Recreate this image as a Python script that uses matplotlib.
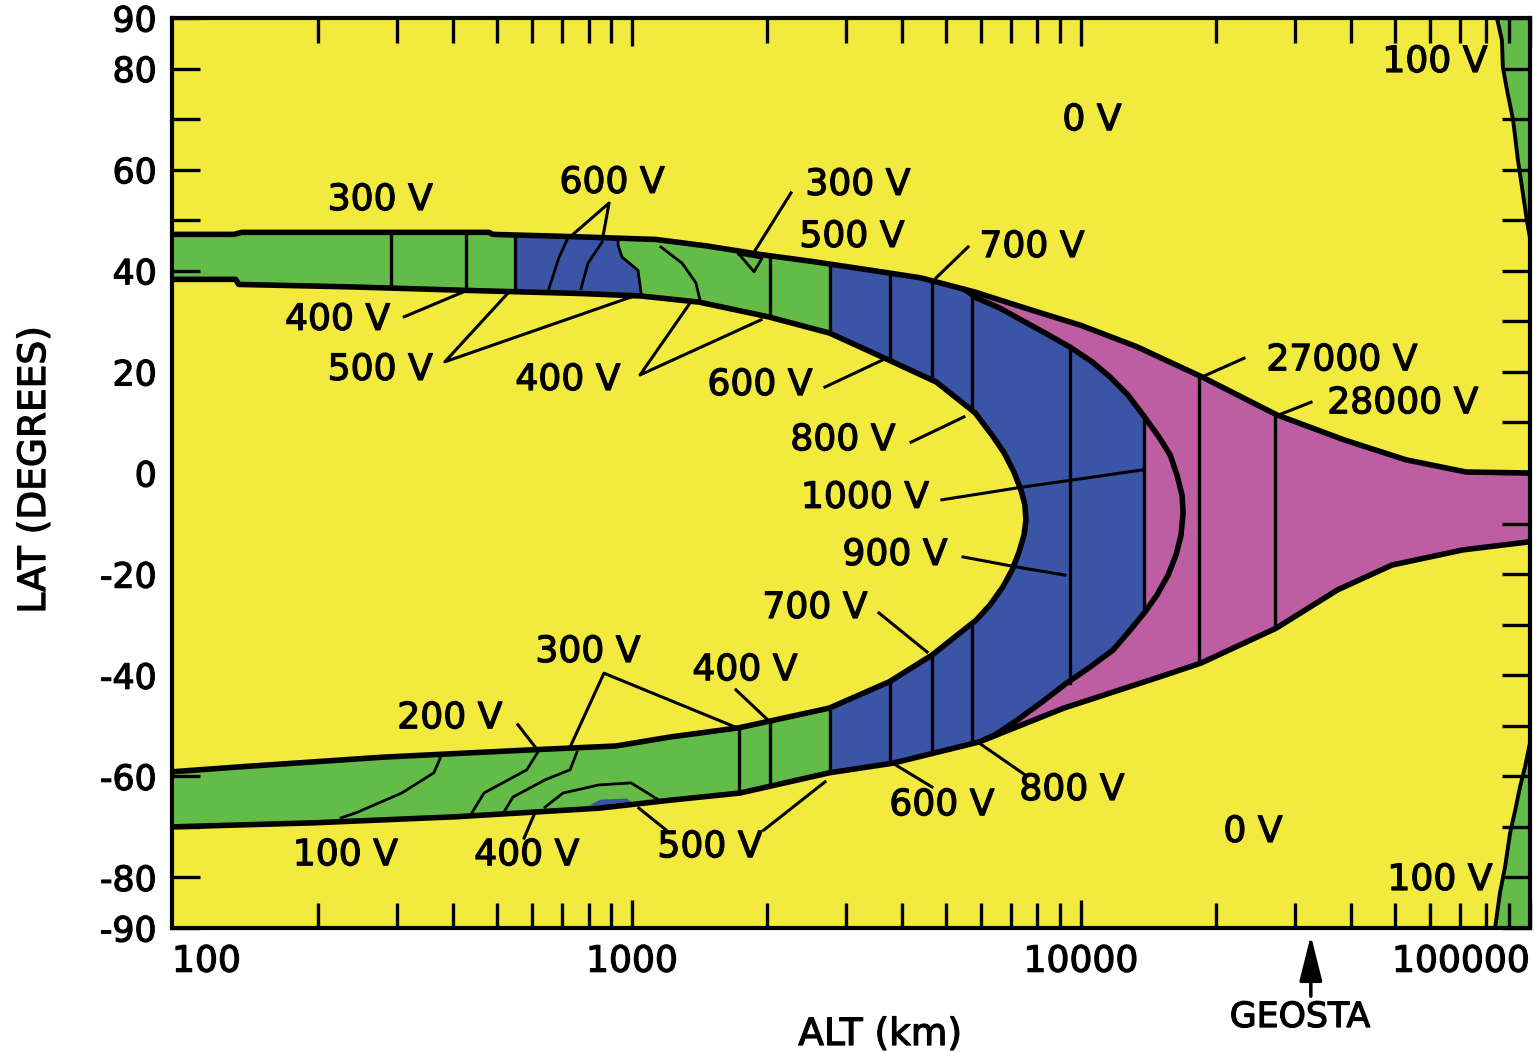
import numpy as np
import matplotlib
matplotlib.use('Agg')
import matplotlib.pyplot as plt
from matplotlib import patheffects as pe
from matplotlib.patches import Polygon
from matplotlib.ticker import NullFormatter, FixedLocator
from matplotlib.transforms import offset_copy

YELLOW = '#F2EA3E'
GREEN = '#62BC47'
BLUE = '#3A55A5'
PINK = '#BD5DA2'

# ---------------- data (altitude km, latitude deg) ----------------
up_out_alt = [94.5, 130, 135, 480, 490, 710, 1130, 1470, 1940, 2540, 3350, 4400, 5800, 7650,
              10000, 13300, 18600, 27300, 38700, 53000, 72000, 100000]
up_out_lat = [47.2, 47.2, 47.6, 47.6, 47.2, 46.8, 46.2, 44.9, 43.2, 41.8, 40.2, 38.6, 35.8, 32.4,
              29.2, 25.0, 19.0, 11.5, 6.5, 2.6, 0.2, 0.0]
lo_out_alt = [94.5, 195, 405, 844, 1222, 1740, 2750, 3810, 5930, 9160, 15000, 18500, 27200,
              37300, 49300, 71000, 100000]
lo_out_lat = [-70.0, -69.2, -68.0, -66.3, -64.7, -63.3, -59.3, -57.4, -53.2, -46.5, -40.3, -37.6,
              -30.7, -23.1, -18.2, -15.2, -13.6]

hole_alt = [94.5, 131, 133, 240, 436, 770, 1050, 1410, 2010, 2750, 3740, 4760, 5810, 6335, 6740,
            7090, 7350, 7500, 7540, 7465, 7280, 7020, 6700, 6270, 5840, 4660, 3740, 2750, 1730,
            1220, 920, 583, 280, 135, 94.5]
hole_lat = [38.3, 38.3, 37.3, 36.8, 36.1, 35.5, 35.0, 33.8, 30.9, 27.7, 22.3, 18.0, 11.9, 7.5, 4.0,
            0.2, -3.4, -6.3, -9.3, -12.3, -15.6, -19.2, -22.5, -26.1, -29.1, -36.0, -41.3, -46.5,
            -50.4, -52.2, -54.0, -54.8, -56.2, -58.1, -59.1]

# blue / pink boundary curve
c_alt = [5500, 5867, 6600, 7352, 8313, 9451, 10580, 11606, 12727, 13740, 14920, 15790, 16360,
         16790, 16880, 16700, 16280, 15630, 14770, 13880, 12860, 11790, 10470, 9307, 8187, 7202,
         6433, 6100]
c_lat = [36.3, 34.6, 32.6, 30.3, 27.7, 24.9, 22.0, 19.0, 15.4, 11.5, 7.1, 3.6, -0.4, -4.4, -7.9,
         -12.3, -16.2, -20.2, -24.1, -27.5, -31.1, -35.0, -38.4, -41.5, -45.3, -48.9, -51.8, -52.7]
split_alt = 13800
split_top, split_bot = 11.5, -27.5

green_end = 2761
blue_piece_alt = [549, 931, 931, 950, 1031, 1047, 1047, 549]
blue_piece_lat = [55, 55, 45.1, 42.7, 40.1, 35.8, 25, 25]
blob_alt = [800, 850, 975, 1015]
blob_lat = [-65.8, -64.6, -64.4, -65.6]

tr_alt = [84400, 86600, 87000, 88900, 91700, 94000, 96400, 98400, 100000]
tr_lat = [90, 85.6, 80.3, 75.7, 69.8, 61.9, 55.4, 50.0, 46.5]
br_alt = [100000, 97500, 95000, 92700, 90300, 88000, 85700, 83600]
br_lat = [-53.4, -58.1, -62.1, -66.7, -71.2, -77.9, -83.1, -90]

vlines_upper = [290, 427, 549]
vlines_lower = [1730]
vlines_full = [2028, 2761, 3750, 4657, 5717, 18300, 27000]
vline_9450 = (9450, 24.9, -41.5)

contours = [
    ([720, 688, 653], [46.5, 42.7, 36.5]),
    ([858, 798, 770], [45.7, 41.5, 36.5]),
    ([931, 931, 950, 1031, 1047, 1047], [46.6, 45.1, 42.7, 40.1, 35.8, 34.5]),
    ([1160, 1293, 1388, 1417], [44.7, 41.5, 37.6, 34.2]),
    ([1730, 1948, 1870, 1730], [43.3, 42.5, 39.8, 43.3]),
    ([374, 362, 307, 243, 225], [-56.4, -59.3, -63.3, -67.2, -68.2]),
    ([617, 583, 468, 440], [-55.2, -58.7, -63.3, -67.2]),
    ([754, 728, 640, 543, 519], [-55.2, -58.7, -60.7, -64.1, -67.0]),
    ([640, 702, 844, 995, 1148], [-66.1, -63.3, -61.7, -61.3, -64.7]),
]

pointers = [
    [(730, 46.8), (889, 53.4), (860, 46.4)],
    [(2260, 55.4), (1870, 43.7)],
    [(5602, 44.7), (4756, 38.6)],
    [(311, 30.9), (431, 36.2)],
    [(532, 35.8), (383, 22.0), (995, 34.8)],
    [(1346, 33.6), (1042, 19.4), (1938, 30.3)],
    [(2690, 17.0), (3604, 22.3)],
    [(4183, 6.1), (5488, 11.1)],
    [(4901, -5.3), (7390, -2.8), (9550, -1.4), (13670, 0.6)],
    [(5460, -16.6), (7200, -18.6), (9213, -20.2)],
    [(3549, -27.7), (4540, -35.4)],
    [(728, -54.2), (866, -39.6), (1714, -50.4)],
    [(1704, -42.9), (2010, -48.9)],
    [(557, -49.8), (611, -54.4)],
    [(575, -72.2), (605, -67.6)],
    [(1190, -70.6), (1036, -66.3)],
    [(1968, -70.6), (2690, -61.1)],
    [(4657, -62.1), (3873, -57.8)],
    [(7504, -59.7), (5927, -53.4)],
    [(23070, 22.7), (18600, 19.0)],
    [(32530, 14.0), (27600, 11.5)],
]

labels = [
    ('0 V', 10580, 69.8), ('100 V', 61430, 81.3), ('300 V', 275, 54.0), ('600 V', 903, 57.4),
    ('300 V', 3186, 57.0), ('500 V', 3090, 46.7), ('700 V', 7779, 44.7), ('400 V', 221, 30.3),
    ('500 V', 275, 20.4), ('400 V', 720, 18.4), ('600 V', 1928, 17.4), ('800 V', 2951, 6.5),
    ('1000 V', 3304, -4.9), ('900 V', 3852, -16.2), ('700 V', 2556, -26.7), ('300 V', 798, -35.4),
    ('400 V', 1785, -39.0), ('200 V', 393, -48.5), ('100 V', 230, -75.6), ('400 V', 583, -75.6),
    ('500 V', 1492, -74.0), ('600 V', 4901, -65.7), ('800 V', 9550, -62.7), ('0 V', 24160, -71.0),
    ('100 V', 63040, -80.5), ('27000 V', 38140, 22.3), ('28000 V', 52130, 13.8),
]

x_major = [1000, 10000, 100000]
x_major_labels = ['1000', '10000', '100000']
y_ticks = list(range(-90, 91, 10))
y_labeled = [90, 80, 60, 40, 20, 0, -20, -40, -60, -80, -90]
geosta_alt = 32500

# ---------------- figure ----------------
W, H = 1534, 1052
fig = plt.figure(figsize=(W / 100, H / 100), dpi=100)
fig.patch.set_facecolor('white')
ax = fig.add_axes([172 / W, 1 - 928 / H, (1530 - 172) / W, (928 - 18) / H])
ax.set_facecolor(YELLOW)
ax.set_xscale('log')
ax.set_xlim(94.5, 100000)
ax.set_ylim(-90, 90)

stroke = [pe.withStroke(linewidth=0.9, foreground='black')]

band_x = up_out_alt + lo_out_alt[::-1]
band_y = up_out_lat + lo_out_lat[::-1]
band = Polygon(np.column_stack([band_x, band_y]), closed=True, facecolor=PINK,
               edgecolor='none', zorder=1)
ax.add_patch(band)

c_alt_a = np.array(c_alt)
c_lat_a = np.array(c_lat)
top = c_lat_a >= split_top
bot = c_lat_a <= split_bot
bx = [80, c_alt[0], c_alt[0]] + list(c_alt_a[top]) + [split_alt, split_alt] + \
     list(c_alt_a[bot]) + [c_alt[-1], 80]
by = [90, 90, c_lat[0]] + list(c_lat_a[top]) + [split_top, split_bot] + \
     list(c_lat_a[bot]) + [-90, -90]
blue = ax.fill(bx, by, color=BLUE, lw=0, zorder=1.1)[0]
blue.set_clip_path(band)

g = ax.axvspan(80, green_end, color=GREEN, lw=0, zorder=1.2)
g.set_clip_path(band)

bp = ax.fill(blue_piece_alt, blue_piece_lat, color=BLUE, lw=0, zorder=1.3)[0]
bp.set_clip_path(band)
ax.fill(blob_alt, blob_lat, color=BLUE, lw=0, zorder=1.3)

# right-edge green wedges
ax.fill(tr_alt + [100000], tr_lat + [90], color=GREEN, lw=0, zorder=1)
ax.fill(br_alt + [100000], br_lat + [-90], color=GREEN, lw=0, zorder=1)
ax.plot(tr_alt, tr_lat, color='k', lw=2.8, zorder=4)
ax.plot(br_alt, br_lat, color='k', lw=2.8, zorder=4)

# vertical separators
for xv in vlines_upper:
    l = ax.axvline(xv, ymin=0.5, ymax=1, color='k', lw=2.4, zorder=2)
    l.set_clip_path(band)
for xv in vlines_lower:
    l = ax.axvline(xv, ymin=0, ymax=0.5, color='k', lw=2.4, zorder=2)
    l.set_clip_path(band)
for xv in vlines_full:
    l = ax.axvline(xv, color='k', lw=2.4, zorder=2)
    l.set_clip_path(band)
ax.plot([vline_9450[0]] * 2, vline_9450[1:], color='k', lw=2.4, zorder=2)
ax.plot([split_alt, split_alt], [split_top, split_bot], color='k', lw=2.4, zorder=2)

for cx, cy in contours:
    l, = ax.plot(cx, cy, color='k', lw=2.0, zorder=2, solid_joinstyle='round')
    l.set_clip_path(band)

# inner hole
ax.fill(hole_alt, hole_lat, color=YELLOW, lw=0, zorder=3)

# boundary lines
for xs, ys in [(up_out_alt, up_out_lat), (lo_out_alt, lo_out_lat), (hole_alt, hole_lat),
               (c_alt, c_lat)]:
    ax.plot(xs, ys, color='k', lw=4.0, zorder=4, solid_joinstyle='round',
            solid_capstyle='round')

# pointers
for seg in pointers:
    xs, ys = zip(*seg)
    ax.plot(xs, ys, color='k', lw=2.2, zorder=5, solid_joinstyle='round')

for s, xa, ya in labels:
    ax.text(xa, ya, s, ha='center', va='center', fontsize=26, zorder=6,
            path_effects=stroke)

# axes styling
for sp in ax.spines.values():
    sp.set_linewidth(3)
    sp.set_zorder(7)
ax.xaxis.set_major_locator(FixedLocator(x_major))
ax.set_xticklabels(x_major_labels)
ax.xaxis.set_minor_formatter(NullFormatter())
ax.set_yticks(y_ticks)
ax.set_yticklabels([str(v) if v in y_labeled else '' for v in y_ticks])
ax.tick_params(which='both', direction='in', top=True, right=True, width=2.4, color='k')
ax.tick_params(which='major', length=20)
ax.tick_params(which='minor', length=18)
ax.tick_params(axis='x', which='major', labelsize=26, pad=12)
ax.tick_params(axis='y', which='major', labelsize=25, pad=11)
for t in ax.get_xticklabels() + ax.get_yticklabels():
    t.set_path_effects(stroke)
xl = ax.get_xticklabels()
xl[-1].set_ha('right')

tr = offset_copy(ax.transAxes, fig=fig, y=-12, units='points')
ax.text(0, 0, '100', transform=tr, ha='left', va='top', fontsize=26, path_effects=stroke)

fig.text(35 / W, 1 - 470 / H, 'LAT (DEGREES)', rotation=90, ha='center', va='center',
         fontsize=27, path_effects=stroke)
fig.text(880 / W, 1 - 1035 / H, 'ALT (km)', ha='center', va='center', fontsize=27,
         path_effects=stroke)
fig.text(1300 / W, 1 - 1017 / H, 'GEOSTA', ha='center', va='center', fontsize=25,
         path_effects=stroke)
ax.annotate('', xy=(geosta_alt, -0.008), xycoords=('data', 'axes fraction'),
            xytext=(geosta_alt, -0.075), textcoords=('data', 'axes fraction'),
            arrowprops=dict(arrowstyle='-|>,head_length=1.0,head_width=0.25',
                            mutation_scale=28, lw=2.5, color='k', shrinkA=0, shrinkB=0),
            annotation_clip=False)

fig.savefig('out.png', dpi=100)
